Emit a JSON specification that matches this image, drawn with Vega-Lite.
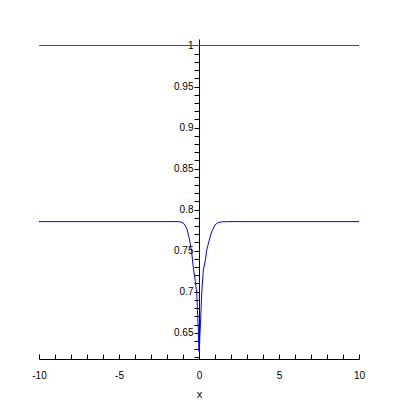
{
  "$schema": "https://vega.github.io/schema/vega-lite/v6.json",
  "width": 320,
  "height": 320,
  "autosize": "none",
  "padding": {"left": 39, "top": 39, "right": 41, "bottom": 41},
  "background": "white",
  "config": {
    "view": {"stroke": null},
    "axis": {
      "grid": false,
      "labelFont": "Liberation Sans",
      "titleFont": "Liberation Sans",
      "labelColor": "black",
      "titleColor": "black",
      "domainColor": "black",
      "tickColor": "black",
      "labelFontSize": 10,
      "titleFontSize": 11,
      "titleFontWeight": "normal",
      "labelOverlap": false,
      "labelBound": false,
      "labelFlush": false
    }
  },
  "datasets": {
    "curve": [
      {"x": -10, "y": 0.7854},
      {"x": -1.5, "y": 0.7854},
      {"x": -1.2, "y": 0.7852},
      {"x": -1.0, "y": 0.784},
      {"x": -0.875, "y": 0.781},
      {"x": -0.75, "y": 0.776},
      {"x": -0.61, "y": 0.7652},
      {"x": -0.46, "y": 0.7485},
      {"x": -0.36, "y": 0.73},
      {"x": -0.27, "y": 0.718},
      {"x": -0.14, "y": 0.6983},
      {"x": -0.08, "y": 0.6691},
      {"x": -0.04, "y": 0.6533},
      {"x": -0.01, "y": 0.629},
      {"x": 0.02, "y": 0.6265},
      {"x": 0.06, "y": 0.6496},
      {"x": 0.11, "y": 0.6691},
      {"x": 0.17, "y": 0.6983},
      {"x": 0.27, "y": 0.7263},
      {"x": 0.4, "y": 0.7384},
      {"x": 0.48, "y": 0.7506},
      {"x": 0.64, "y": 0.7628},
      {"x": 0.79, "y": 0.7729},
      {"x": 1.0, "y": 0.7815},
      {"x": 1.2, "y": 0.7843},
      {"x": 1.5, "y": 0.7852},
      {"x": 1.8, "y": 0.7854},
      {"x": 10, "y": 0.7854}
    ],
    "top": [
      {"x": -10, "y": 1},
      {"x": 10, "y": 1}
    ]
  },
  "encoding": {
    "x": {
      "field": "x",
      "type": "quantitative",
      "scale": {"domain": [-10, 10], "nice": false, "zero": false},
      "axis": {
        "orient": "bottom",
        "title": "x",
        "values": [-10, -9, -8, -7, -6, -5, -4, -3, -2, -1, 0, 1, 2, 3, 4, 5, 6, 7, 8, 9, 10],
        "labelExpr": "datum.value % 5 == 0 ? '' + datum.value : ''",
        "tickSize": -5,
        "labelPadding": 16,
        "titlePadding": 8
      }
    },
    "y": {
      "field": "y",
      "type": "quantitative",
      "scale": {"domain": [0.618, 1.00791], "nice": false, "zero": false},
      "axis": {
        "orient": "left",
        "title": null,
        "offset": -160,
        "values": [0.62, 0.63, 0.64, 0.65, 0.66, 0.67, 0.68, 0.69, 0.7, 0.71, 0.72, 0.73, 0.74, 0.75, 0.76, 0.77, 0.78, 0.79, 0.8, 0.81, 0.82, 0.83, 0.84, 0.85, 0.86, 0.87, 0.88, 0.89, 0.9, 0.91, 0.92, 0.93, 0.94, 0.95, 0.96, 0.97, 0.98, 0.99, 1],
        "labelExpr": "round(datum.value * 100) % 5 == 0 ? '' + datum.value : ''",
        "tickSize": 5,
        "labelPadding": 1
      }
    }
  },
  "layer": [
    {
      "data": {"name": "curve"},
      "mark": {"type": "line", "color": "#0000FF", "strokeWidth": 1, "clip": true}
    },
    {
      "data": {"name": "top"},
      "mark": {"type": "line", "color": "#FF0000", "strokeWidth": 1}
    }
  ]
}
